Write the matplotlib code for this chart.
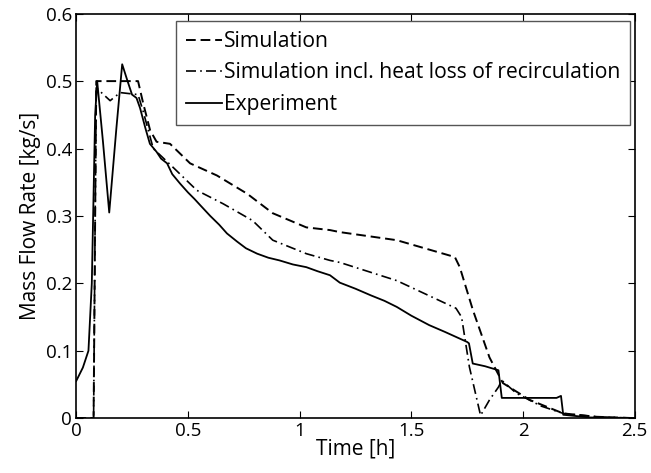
import matplotlib
matplotlib.use("Agg")
import matplotlib.pyplot as plt

# Simulation (gestrichelt)
sim_t = [0.0, 0.078, 0.085, 0.09, 0.277, 0.30, 0.331, 0.36, 0.42, 0.51, 0.63, 0.765, 0.88,
         1.03, 1.136, 1.18, 1.435, 1.695, 1.717, 1.776, 1.85, 1.91, 2.03, 2.18, 2.33, 2.5]
sim_v = [0.0, 0.0, 0.3, 0.5, 0.5, 0.467, 0.427, 0.41, 0.407, 0.378, 0.36, 0.333, 0.304,
         0.283, 0.279, 0.276, 0.264, 0.239, 0.224, 0.16, 0.09, 0.052, 0.027, 0.007, 0.002, 0.0]

# Simulation inkl. Wärmeverlust der Rezirkulation (strich-punkt)
loss_t = [0.0, 0.078, 0.085, 0.09, 0.152, 0.197, 0.277, 0.30, 0.345, 0.434, 0.54, 0.658,
          0.79, 0.88, 1.03, 1.136, 1.18, 1.435, 1.70, 1.725, 1.76, 1.81, 1.85, 1.89,
          1.905, 1.97, 2.08, 2.18, 2.33, 2.5]
loss_v = [0.0, 0.0, 0.3, 0.49, 0.471, 0.483, 0.48, 0.455, 0.40, 0.372, 0.338, 0.318,
          0.293, 0.264, 0.244, 0.234, 0.231, 0.204, 0.163, 0.15, 0.076, 0.004, 0.027, 0.046,
          0.056, 0.037, 0.018, 0.007, 0.002, 0.0]

# Experiment (durchgezogen)
exp_t = [0.0, 0.03, 0.055, 0.07, 0.085, 0.094, 0.12, 0.148, 0.18, 0.206, 0.23, 0.25,
         0.27, 0.286, 0.31, 0.33, 0.36, 0.38, 0.407, 0.43, 0.465, 0.50, 0.53, 0.555,
         0.60, 0.64, 0.675, 0.72, 0.76, 0.81, 0.86, 0.91, 0.97, 1.03, 1.08, 1.136, 1.18,
         1.25, 1.32, 1.38, 1.435, 1.50, 1.58, 1.65, 1.75, 1.758, 1.775, 1.83, 1.89,
         1.905, 2.0, 2.15, 2.17, 2.18, 2.3, 2.5]
exp_v = [0.055, 0.075, 0.1, 0.2, 0.45, 0.5, 0.41, 0.305, 0.43, 0.525, 0.50, 0.48,
         0.475, 0.46, 0.43, 0.407, 0.395, 0.385, 0.378, 0.362, 0.348, 0.335, 0.325, 0.316,
         0.30, 0.287, 0.274, 0.262, 0.252, 0.244, 0.238, 0.234, 0.228, 0.224, 0.218, 0.212, 0.201,
         0.192, 0.182, 0.174, 0.165, 0.152, 0.138, 0.128, 0.113, 0.111, 0.081, 0.077, 0.071,
         0.03, 0.03, 0.03, 0.033, 0.005, 0.001, 0.0]

plt.rcParams["font.family"] = ["Open Sans", "DejaVu Sans"]

fig = plt.figure(figsize=(6.51, 4.73), dpi=100)
ax = fig.add_axes([0.117, 0.116, 0.858, 0.855])

ax.plot(sim_t, sim_v, color="black", linestyle=(0, (5, 2.5)), linewidth=1.4, label="Simulation")
ax.plot(loss_t, loss_v, color="black", linestyle=(0, (6, 2.5, 1, 2.5)), linewidth=1.2,
        label="Simulation incl. heat loss of recirculation")
ax.plot(exp_t, exp_v, color="black", linestyle="-", linewidth=1.3, label="Experiment")

ax.set_xlim(0, 2.5)
ax.set_ylim(0, 0.6)
ax.set_xticks([0, 0.5, 1, 1.5, 2, 2.5])
ax.set_xticklabels(["0", "0.5", "1", "1.5", "2", "2.5"])
ax.set_yticks([0, 0.1, 0.2, 0.3, 0.4, 0.5, 0.6])
ax.set_yticklabels(["0", "0.1", "0.2", "0.3", "0.4", "0.5", "0.6"])
ax.tick_params(direction="in", top=True, right=True, length=5, labelsize=13.5, pad=3)
for sp in ax.spines.values():
    sp.set_linewidth(1.2)

ax.set_xlabel("Time [h]", fontsize=15, labelpad=-1)
ax.set_ylabel("Mass Flow Rate [kg/s]", fontsize=15, labelpad=3)

leg = ax.legend(loc="upper right", bbox_to_anchor=(0.991, 0.981), borderaxespad=0,
                fontsize=15.2, fancybox=False, handlelength=1.7, handletextpad=0.1,
                labelspacing=0.5, borderpad=0.45, framealpha=1)
leg.get_frame().set_edgecolor("#555555")
leg.get_frame().set_linewidth(1.0)

fig.savefig("out.png", dpi=100)
